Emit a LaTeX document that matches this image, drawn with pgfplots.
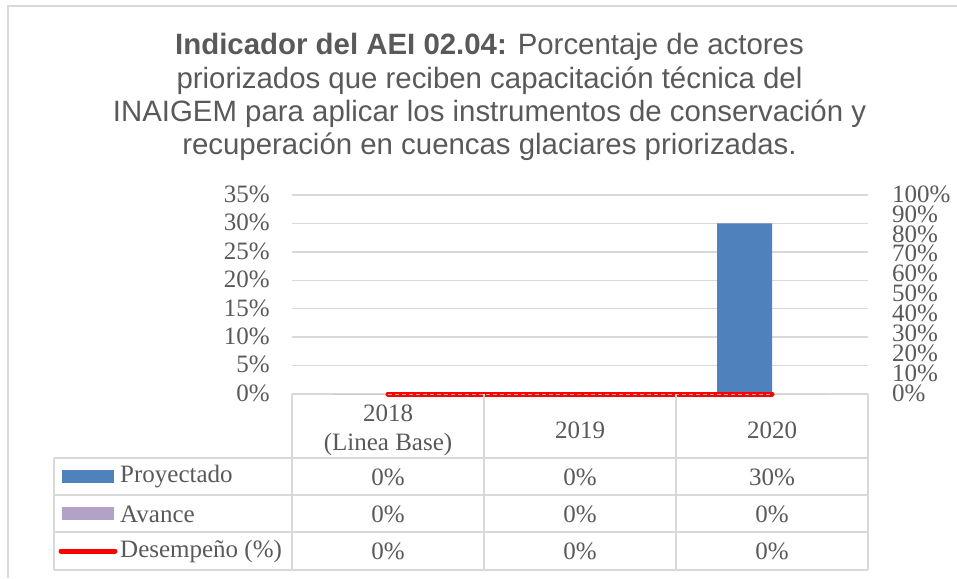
\documentclass[border=0pt]{standalone}
\usepackage{pgfplots}
\pgfplotsset{compat=1.18}
\usepackage{fontspec}
\setmainfont{Liberation Serif}
\newfontfamily\titlefont{Liberation Sans}
\definecolor{txt}{HTML}{595959}
\definecolor{gridc}{HTML}{D9D9D9}
\definecolor{proy}{HTML}{4F81BD}
\definecolor{avan}{HTML}{B3A2C7}
\begin{document}
\begin{tikzpicture}
\path[use as bounding box] (0,0) rectangle (957pt,-578pt);
% outer frame
\draw[gridc, line width=1.5pt] (8pt,-578pt) -- (8pt,-6pt) -- (957pt,-6pt);
% title
\begin{scope}[every node/.style={anchor=base, text=txt, inner sep=0pt, font=\titlefont\fontsize{29.4}{33}\selectfont}]
\node at (489.5pt,-55pt) {\textbf{Indicador del AEI 02.04:} Porcentaje de actores};
\node at (489.5pt,-88pt) {priorizados que reciben capacitación técnica del};
\node at (489.5pt,-121pt) {INAIGEM para aplicar los instrumentos de conservación y};
\node at (489.5pt,-154pt) {recuperación en cuencas glaciares priorizadas.};
\end{scope}
% main axis
\begin{axis}[
  at={(292pt,-394pt)}, anchor=south west,
  scale only axis, width=576pt, height=199pt,
  xmin=-0.5, xmax=2.5, ymin=0, ymax=0.35,
  ybar=0pt, bar width=55pt,
  clip=false,
  axis line style={draw=none}, tick style={draw=none},
  ymajorgrids, grid style={gridc, line width=1.5pt},
  ytick={0,0.05,0.1,0.15,0.2,0.25,0.3,0.35},
  yticklabels={0\%,5\%,10\%,15\%,20\%,25\%,30\%,35\%},
  xtick={0,1,2},
  xticklabels={{2018\\(Linea Base)},2019,2020},
  xticklabel style={anchor=center, yshift=-32pt, align=center, font=\fontsize{25}{29}\selectfont, text=txt},
  yticklabel style={font=\fontsize{25}{25}\selectfont, text=txt, inner sep=0pt, text height=0.68em, text depth=0pt, xshift=-22pt, yshift=-4pt},
  /pgf/number format/assume math mode=true,
]
\addplot[fill=proy, draw=none] coordinates {(0,0) (1,0) (2,0.30)};
\addplot[fill=avan, draw=none] coordinates {(0,0) (1,0) (2,0)};
\end{axis}
% secondary axis
\begin{axis}[
  at={(292pt,-394pt)}, anchor=south west,
  scale only axis, width=576pt, height=199pt,
  xmin=-0.5, xmax=2.5, ymin=0, ymax=1,
  clip=false,
  axis y line*=right, axis x line=none,
  axis line style={draw=none}, tick style={draw=none},
  ytick={0,0.1,0.2,0.3,0.4,0.5,0.6,0.7,0.8,0.9,1},
  yticklabels={0\%,10\%,20\%,30\%,40\%,50\%,60\%,70\%,80\%,90\%,100\%},
  yticklabel style={font=\fontsize{25}{25}\selectfont, text=txt, inner sep=0pt, text height=0.64em, text depth=0pt, xshift=24pt, yshift=-4pt},
  /pgf/number format/assume math mode=true,
]
\addplot[red, line width=5pt, line cap=round, mark=none] coordinates {(0,0) (1,0) (2,0)};
\addplot[gray!60, line width=0.8pt, dash pattern=on 4pt off 3pt, mark=none] coordinates {(0,0) (1,0) (2,0)};
\end{axis}
% data table grid
\begin{scope}[gridc, line width=1.5pt]
\foreach \x in {292,484,676,868} \draw (\x pt,-394pt) -- (\x pt,-570pt);
\foreach \y in {458,495,532,570} \draw (54pt,-\y pt) -- (868pt,-\y pt);
\draw (54pt,-458pt) -- (54pt,-570pt);
\end{scope}
% legend keys
\fill[proy] (62pt,-470pt) rectangle (114pt,-483pt);
\fill[avan] (62pt,-507pt) rectangle (114pt,-520pt);
\draw[red, line width=5pt, line cap=round] (61pt,-551pt) -- (115pt,-551pt);
\begin{scope}[every node/.style={text=txt, inner sep=0pt, font=\fontsize{25}{25}\selectfont}]
\node[anchor=west] at (120pt,-477pt) {Proyectado};
\node[anchor=west] at (120pt,-514pt) {Avance};
\node[anchor=west] at (120pt,-551pt) {Desempeño (\%)};
\node at (388pt,-477pt) {0\%}; \node at (580pt,-477pt) {0\%}; \node at (772pt,-477pt) {30\%};
\node at (388pt,-514pt) {0\%}; \node at (580pt,-514pt) {0\%}; \node at (772pt,-514pt) {0\%};
\node at (388pt,-551pt) {0\%}; \node at (580pt,-551pt) {0\%}; \node at (772pt,-551pt) {0\%};
\end{scope}
\end{tikzpicture}
\end{document}
